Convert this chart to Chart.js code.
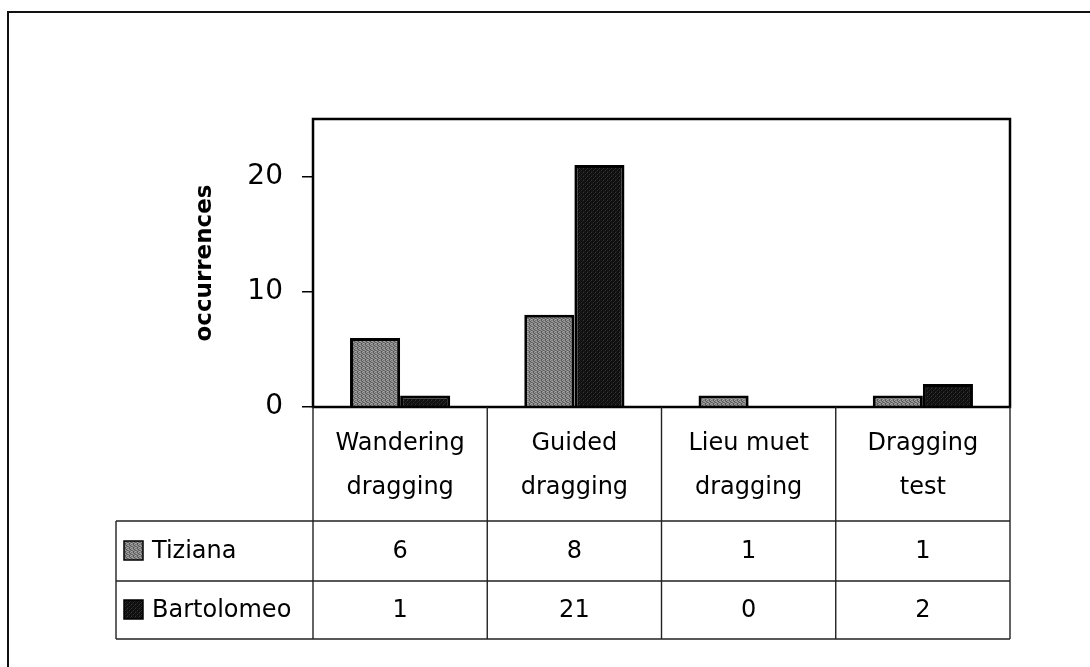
<!DOCTYPE html>
<html>
<head>
<meta charset="utf-8">
<script src="https://cdn.jsdelivr.net/npm/chart.js@4"></script>
<style>
  body { margin: 0; background: #fff; }
  canvas { display: block; }
</style>
</head>
<body>
<canvas id="chart" width="1090" height="667"></canvas>
<script>
const categories = [["Wandering", "dragging"], ["Guided", "dragging"], ["Lieu muet", "dragging"], ["Dragging", "test"]];
const seriesNames = ["Tiziana", "Bartolomeo"];
const tiziana = [6, 8, 1, 1];
const bartolomeo = [1, 21, 0, 2];
const yTicks = [0, 10, 20];

const FONT = "'Comic Sans MS', 'DejaVu Sans', sans-serif";

// little stipple tiles so the bars look like the old printed fills
function stipple(shades) {
    const c = document.createElement("canvas");
    c.width = 4; c.height = 4;
    const g = c.getContext("2d");
    shades.forEach((v, i) => {
        g.fillStyle = `rgb(${v},${v},${v})`;
        g.fillRect(i % 4, Math.floor(i / 4), 1, 1);
    });
    return g.createPattern(c, "repeat");
}
const grayFill = stipple([130, 95, 160, 115, 165, 120, 85, 150, 105, 155, 125, 90, 145, 80, 130, 170]);
const darkFill = stipple([15, 25, 10, 55, 20, 10, 35, 15, 10, 50, 15, 20, 30, 15, 10, 25]);
const fills = [grayFill, darkFill];

const rowHeights = [114, 60, 58];
const legendLeft = 116;

const tablePlugin = {
    id: "dataTable",
    afterDraw(chart) {
        const ctx = chart.ctx;
        const area = chart.chartArea;
        const x = chart.scales.x;
        const colW = (area.right - area.left) / categories.length;

        ctx.save();

        // outer frame, top and left edges only
        ctx.strokeStyle = "#111";
        ctx.lineWidth = 2;
        ctx.beginPath();
        ctx.moveTo(8, 667);
        ctx.lineTo(8, 12);
        ctx.lineTo(1090, 12);
        ctx.stroke();

        // plot box
        ctx.strokeStyle = "#000";
        ctx.lineWidth = 2.5;
        ctx.strokeRect(area.left, area.top, area.right - area.left, area.bottom - area.top);

        // table grid
        const y0 = area.bottom;
        const y1 = y0 + rowHeights[0];
        const y2 = y1 + rowHeights[1];
        const y3 = y2 + rowHeights[2];
        ctx.strokeStyle = "#222";
        ctx.lineWidth = 1.4;
        ctx.beginPath();
        for (let i = 0; i <= categories.length; i++) {
            const cx = area.left + i * colW;
            ctx.moveTo(cx, y0);
            ctx.lineTo(cx, y3);
        }
        ctx.moveTo(legendLeft, y1);
        ctx.lineTo(legendLeft, y3);
        [y1, y2, y3].forEach(yy => {
            ctx.moveTo(legendLeft, yy);
            ctx.lineTo(area.right, yy);
        });
        ctx.stroke();

        ctx.fillStyle = "#000";
        ctx.textAlign = "center";
        ctx.textBaseline = "middle";
        ctx.font = "24px " + FONT;

        // category header
        categories.forEach((lines, i) => {
            const cx = x.getPixelForValue(i);
            ctx.fillText(lines[0], cx, y0 + 37);
            ctx.fillText(lines[1], cx, y0 + 81);
        });

        // value rows with legend keys
        const rows = [tiziana, bartolomeo];
        const rowMid = [(y1 + y2) / 2, (y2 + y3) / 2];
        rows.forEach((vals, r) => {
            const my = rowMid[r];
            ctx.fillStyle = fills[r];
            ctx.fillRect(124, my - 10, 19, 19);
            ctx.strokeStyle = "#000";
            ctx.lineWidth = 1.5;
            ctx.strokeRect(124, my - 10, 19, 19);

            ctx.fillStyle = "#000";
            ctx.textAlign = "left";
            ctx.fillText(seriesNames[r], 152, my + 1);
            ctx.textAlign = "center";
            vals.forEach((v, i) => {
                ctx.fillText(String(v), x.getPixelForValue(i), my + 1);
            });
        });

        ctx.restore();
    }
};

new Chart(document.getElementById("chart"), {
    type: "bar",
    data: {
        labels: categories,
        datasets: [
            {
                label: seriesNames[0],
                data: tiziana,
                backgroundColor: grayFill,
                borderColor: "#000",
                borderWidth: 3
            },
            {
                label: seriesNames[1],
                data: bartolomeo,
                backgroundColor: darkFill,
                borderColor: "#000",
                borderWidth: 3
            }
        ]
    },
    options: {
        responsive: false,
        animation: false,
        layout: {
            padding: { left: 0, top: 119, right: 80, bottom: 0 }
        },
        plugins: {
            legend: { display: false },
            tooltip: { enabled: false }
        },
        datasets: {
            bar: {
                categoryPercentage: 0.575,
                barPercentage: 1
            }
        },
        scales: {
            x: {
                ticks: { display: false },
                grid: { display: false },
                border: { display: false },
                afterFit: s => { s.height = 260; }
            },
            y: {
                min: 0,
                max: 25,
                afterBuildTicks: s => { s.ticks = yTicks.map(v => ({ value: v })); },
                afterFit: s => { s.width = 313; },
                ticks: {
                    color: "#000",
                    padding: 19,
                    font: { family: FONT, size: 28 }
                },
                grid: {
                    drawOnChartArea: false,
                    tickLength: 11,
                    color: "#000",
                    lineWidth: 1.5
                },
                border: { display: false },
                title: {
                    display: true,
                    text: "occurrences",
                    color: "#000",
                    padding: { top: 191, bottom: 0 },
                    font: { family: FONT, size: 23, weight: "bold" }
                }
            }
        }
    },
    plugins: [tablePlugin]
});
</script>
</body>
</html>
